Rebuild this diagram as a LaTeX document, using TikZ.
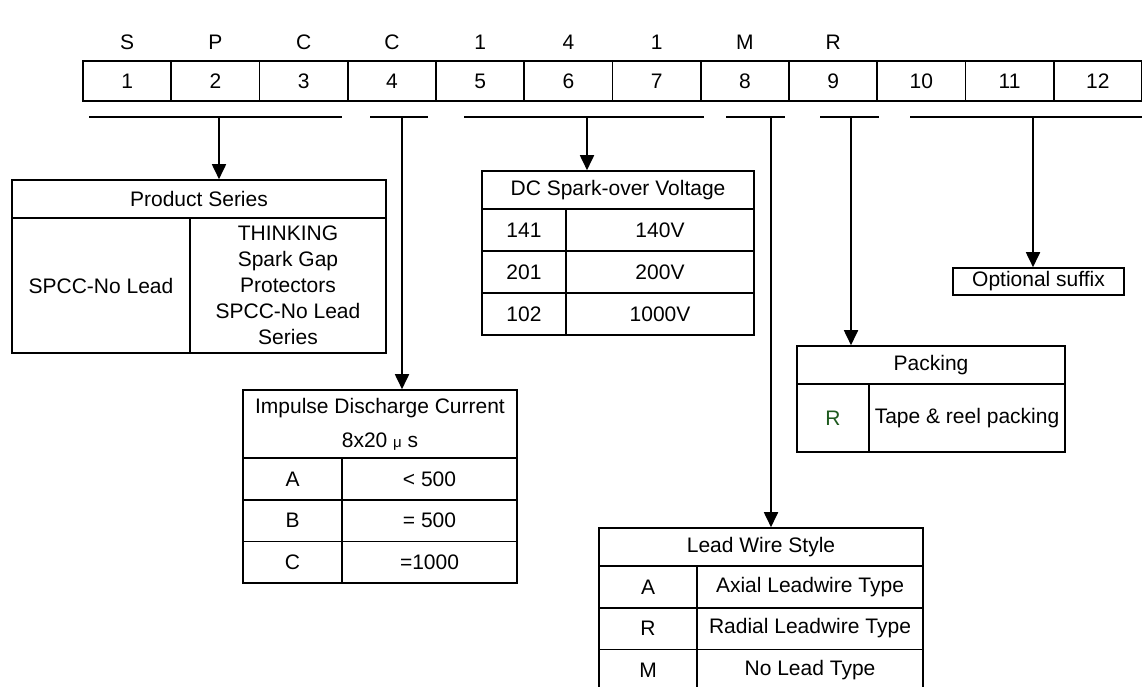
\documentclass[tikz,border=0pt]{standalone}
\usepackage{fontspec}
\setmainfont{Liberation Sans}
\usetikzlibrary{arrows.meta}
\definecolor{codeGreen}{RGB}{30, 90, 30}

\begin{document}
\begin{tikzpicture}[x=1pt, y=-1pt,
    every node/.style={font=\fontsize{21}{26}\selectfont},
    cell/.style={draw, line width=1.6pt, inner sep=0pt, align=center},
    bracket/.style={line width=1.5pt},
    feed/.style={line width=1.8pt, -{Triangle[width=14pt,length=15pt]}}]
  \useasboundingbox (0,0) rectangle (1142,686);
  \clip (0,0) rectangle (1142,686);

  % part number and positions
  \foreach \l [count=\i] in {S,P,C,C,1,4,1,M,R}
    \node (let\i) at ({83+88.25*(\i-0.5)},42) {\l};
  \foreach \i in {1,...,12}
    \node[cell, minimum width=88.25pt, minimum height=40pt] (pos\i) at ({83+88.25*(\i-0.5)},81) {\i};

  % brackets under the positions
  \draw[bracket] (89,117) -- (342,117);
  \draw[bracket] (370,117) -- (428,117);
  \draw[bracket] (464,117) -- (704,117);
  \draw[bracket] (726,117) -- (785,117);
  \draw[bracket] (820,117) -- (879,117);
  \draw[bracket] (910,117) -- (1143,117);
  \coordinate (tap1) at (219,117);
  \coordinate (tap2) at (402,117);
  \coordinate (tap3) at (587,117);
  \coordinate (tap4) at (771,117);
  \coordinate (tap5) at (851,117);
  \coordinate (tap6) at (1033,117);

  % product series
  \node[cell, minimum width=374pt, minimum height=38pt] (prodhead) at (199,199) {Product Series};
  \node[cell, minimum width=178pt, minimum height=135pt] (prodcode) at (101,285.5) {SPCC-No Lead};
  \node[cell, minimum width=196pt, minimum height=135pt] (proddesc) at (288,285.5) {THINKING\\Spark Gap\\Protectors\\SPCC-No Lead\\Series};

  % DC spark-over voltage
  \node[cell, minimum width=272pt, minimum height=38pt] (dchead) at (618,190) {DC Spark-over Voltage};
  \foreach \c/\t [count=\i] in {141/140V, 201/200V, 102/1000V} {
    \node[cell, minimum width=84pt, minimum height=42pt] (dccode\i) at (524,{209+42*(\i-0.5)}) {\c};
    \node[cell, minimum width=188pt, minimum height=42pt] (dcval\i) at (660,{209+42*(\i-0.5)}) {\t};
  }

  % impulse discharge current
  \node[cell, minimum width=274pt, minimum height=68pt] (imphead) at (380,424) {Impulse Discharge Current\\[8pt]8x20~{\fontsize{15}{15}\selectfont μ}~s};
  \foreach \c/\t [count=\i] in {A/< 500, B/= 500, C/=1000} {
    \node[cell, minimum width=99pt, minimum height=41.7pt] (impcode\i) at (292.5,{458+41.7*(\i-0.5)}) {\c};
    \node[cell, minimum width=175pt, minimum height=41.7pt] (impval\i) at (429.5,{458+41.7*(\i-0.5)}) {\t};
  }

  % packing
  \node[cell, minimum width=268pt, minimum height=38pt] (packhead) at (931,365) {Packing};
  \node[cell, minimum width=72pt, minimum height=68pt, text=codeGreen] (packcode) at (833,418) {R};
  \node[cell, minimum width=196pt, minimum height=68pt] (packval) at (967,418) {Tape \& reel packing};

  % optional suffix
  \node[cell, minimum width=171pt, minimum height=27pt] (opt) at (1038.5,281.5) {Optional suffix};

  % lead wire style
  \node[cell, minimum width=324pt, minimum height=38pt] (leadhead) at (761,547) {Lead Wire Style};
  \foreach \c/\t [count=\i] in {A/Axial Leadwire Type, R/Radial Leadwire Type, M/No Lead Type} {
    \node[cell, minimum width=98pt, minimum height=41.7pt] (leadcode\i) at (648,{566+41.7*(\i-0.5)}) {\c};
    \node[cell, minimum width=226pt, minimum height=41.7pt] (leadval\i) at (810,{566+41.7*(\i-0.5)}) {\t};
  }

  % feeds from the brackets
  \draw[feed] (tap1) -- (tap1 |- prodhead.north);
  \draw[feed] (tap2) -- (tap2 |- imphead.north);
  \draw[feed] (tap3) -- (tap3 |- dchead.north);
  \draw[feed] (tap4) -- (tap4 |- leadhead.north);
  \draw[feed] (tap5) -- (tap5 |- packhead.north);
  \draw[feed] (tap6) -- (tap6 |- opt.north);
\end{tikzpicture}
\end{document}
